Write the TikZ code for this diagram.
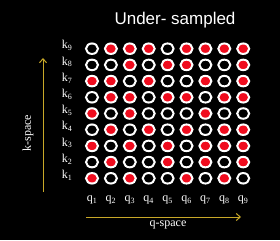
\documentclass[tikz,border=0pt]{standalone}
\usepackage{fontspec}
\setmainfont{Liberation Serif}
\setsansfont{Liberation Sans}
\usetikzlibrary{shapes.geometric,arrows.meta}
\definecolor{axisgold}{RGB}{200,168,40}
\definecolor{samplered}{RGB}{240,12,30}
\begin{document}
\begin{tikzpicture}[
                x=1pt,y=-1pt,
                every node/.style={text=white},
                sample0/.style={ellipse,draw=white,line width=2pt,fill=black,
                        minimum width=12pt,minimum height=10.5pt,inner sep=0pt},
                sample1/.style={sample0,fill=samplered},
                axislabel/.style={font=\fontsize{12}{13}\selectfont},
                axis/.style={draw=axisgold,line width=1pt,-{Straight Barb[length=4pt,width=7pt]}}
            ]

            \fill[black] (0,0) rectangle (280,240);
            \useasboundingbox (0,0) rectangle (280,240);

            \node[font=\sffamily\fontsize{17}{20}\selectfont] (title) at (175,20) {Under- sampled};

            % rows k1 ... k9, 1 = sampled (red), 0 = skipped
            \foreach \row/\bits in {
                    1/{1,0,1,0,0,1,0,1,0},
                    2/{0,1,0,0,1,0,1,0,1},
                    3/{1,0,1,0,1,0,1,1,1},
                    4/{0,1,0,1,0,1,0,1,1},
                    5/{1,0,1,0,0,0,1,0,0},
                    6/{0,1,1,0,1,1,0,1,1},
                    7/{1,1,0,1,0,0,1,0,1},
                    8/{0,0,1,0,1,1,0,0,1},
                    9/{0,1,1,1,0,1,1,1,1}} {
                \node[axislabel] (k\row) at (67,{178.3-(\row-1)*16.2-3}) {k\textsubscript{\row}};
                \foreach \s [count=\col] in \bits {
                    \node[sample\s] (c-\row-\col) at ({92+(\col-1)*18.9},{178.3-(\row-1)*16.2}) {};
                }
            }

            \foreach \col in {1,...,9} {
                \node[axislabel] (q\col) at ({92+(\col-1)*18.9},200) {q\textsubscript{\col}};
            }

            \coordinate (k-from) at (43,192);
            \coordinate (k-to) at (43,58);
            \coordinate (q-from) at (86,217);
            \coordinate (q-to) at (241,217);
            \draw[axis] (k-from) -- (k-to);
            \draw[axis] (q-from) -- (q-to);

            \node[axislabel,rotate=90] (kspace) at (28,133) {k-space};
            \node[axislabel] (qspace) at (168,225) {q-space};

        \end{tikzpicture}
\end{document}
